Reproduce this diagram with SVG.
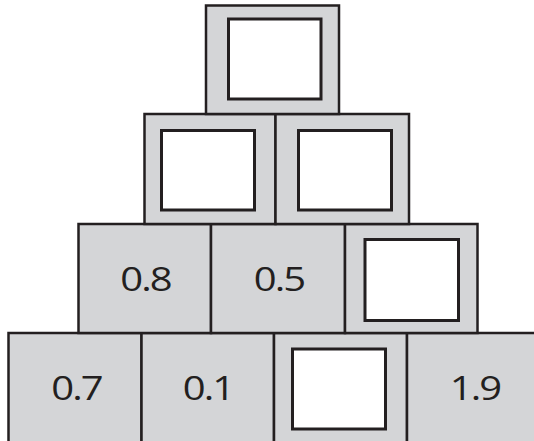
<svg xmlns="http://www.w3.org/2000/svg" width="534" height="441" viewBox="0 0 534 441">
<style>
.blk{fill:#d4d5d7;stroke:#231f20;stroke-width:2.5}
.box{fill:#ffffff;stroke:#231f20;stroke-width:3}
.num{font-family:"Open Sans","Lato","DejaVu Sans",sans-serif;font-size:32px;fill:#231f20;text-anchor:middle;letter-spacing:-1.5px}
</style>
<rect width="534" height="441" fill="#ffffff"/>
<g id="row4">
<g id="b41"><rect class="blk" x="8.5" y="333" width="133" height="115"/><text class="num" transform="translate(76.5,400) scale(1.25,1)">0.7</text></g>
<g id="b42"><rect class="blk" x="141.5" y="333" width="132.5" height="115"/><text class="num" transform="translate(208,400) scale(1.25,1)">0.1</text></g>
<g id="b43"><rect class="blk" x="274" y="333" width="133" height="115"/><rect class="box" x="292.5" y="349" width="93" height="80"/></g>
<g id="b44"><rect class="blk" x="407" y="333" width="135" height="115"/><text class="num" transform="translate(475,400) scale(1.25,1)">1.9</text></g>
</g>
<g id="row3">
<g id="b31"><rect class="blk" x="78.5" y="224" width="132.5" height="109"/><text class="num" transform="translate(145.5,291) scale(1.25,1)">0.8</text></g>
<g id="b32"><rect class="blk" x="211" y="224" width="134" height="109"/><text class="num" transform="translate(279,291) scale(1.25,1)">0.5</text></g>
<g id="b33"><rect class="blk" x="345" y="224" width="132.5" height="109"/><rect class="box" x="365" y="239.5" width="93.5" height="81"/></g>
</g>
<g id="row2">
<g id="b21"><rect class="blk" x="144.5" y="114" width="131" height="110"/><rect class="box" x="161.5" y="130.5" width="93" height="79.5"/></g>
<g id="b22"><rect class="blk" x="275.5" y="114" width="133.5" height="110"/><rect class="box" x="298.5" y="130.5" width="93" height="79.5"/></g>
</g>
<g id="row1">
<g id="b11"><rect class="blk" x="206" y="5.5" width="133" height="108.5"/><rect class="box" x="228.5" y="19" width="92.5" height="80"/></g>
</g>
<g id="connectors"></g>
</svg>
